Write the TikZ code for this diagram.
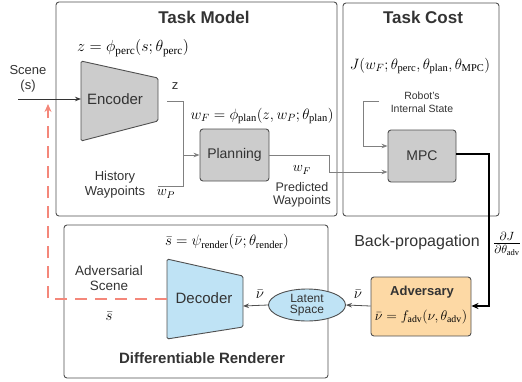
\RequirePackage{fix-cm}
\documentclass[tikz,border=0pt]{standalone}
\usepackage{fontspec}
\setmainfont{Liberation Sans}
\setmathrm{Liberation Serif}
\usetikzlibrary{arrows.meta,shapes.geometric}
\definecolor{boxedge}{HTML}{505050}
\definecolor{txt}{HTML}{333333}
\definecolor{grayfill}{HTML}{CCCCCC}
\definecolor{bluefill}{HTML}{BFE3F5}
\definecolor{orangefill}{HTML}{FDD9A5}
\definecolor{pinkline}{HTML}{F4877A}
\definecolor{wire}{HTML}{808080}
\newcommand{\fs}[1]{\fontsize{#1}{#1}\selectfont}
\begin{document}
\begin{tikzpicture}[x=1pt,y=-1pt,
  panel/.style={draw=boxedge,line width=0.9pt,rounded corners=3pt},
  block/.style={draw=boxedge,line width=0.9pt,rounded corners=3pt,fill=grayfill},
  lbl/.style={text=txt,inner sep=0pt,align=center},
  mth/.style={text=black,inner sep=0pt},
  ttl/.style={lbl,font=\fs{17}\bfseries},
  wireline/.style={draw=wire,line width=0.8pt},
  tip/.style={-{Stealth[length=6pt,width=4.5pt]}},
]
\useasboundingbox (0,0) rectangle (522,381);
% panels
\draw[panel] (56,2) rectangle (337,216);
\draw[panel] (343,3) rectangle (499,216);
\draw[panel] (64,225) rectangle (328,378);
\node[ttl] (tmtitle) at (204,17) {Task Model};
\node[ttl] (tctitle) at (423,17) {Task Cost};
\node[lbl,font=\fs{15}\bfseries] (drtitle) at (202,358) {Differentiable Renderer};

% encoder
\draw[block,rounded corners=1.5pt] (81,61) -- (158,78) -- (158,121) -- (81,141) -- cycle;
\node[lbl,font=\fs{15}] (enc) at (115,99) {Encoder};
\coordinate (encin) at (81,99);
\coordinate (encout) at (167,101);

% decoder
\draw[block,fill=bluefill,rounded corners=1.5pt] (167,259) -- (243,276) -- (243,327) -- (167,339) -- cycle;
\node[lbl,font=\fs{15}] (dec) at (204,298) {Decoder};
\coordinate (decin) at (243,306);
\coordinate (decout) at (167,299);

% planning, MPC
\node[block,minimum width=69pt,minimum height=52pt,font=\fs{14},text=txt] (plan) at (234.5,155) {Planning};
\node[block,minimum width=68pt,minimum height=52pt,font=\fs{14},text=txt] (mpc) at (422,156) {MPC};

% adversary
\node[block,fill=orangefill,minimum width=100pt,minimum height=59pt] (adv) at (421,306.5) {};
\node[lbl,font=\fs{13}\bfseries] (advt) at (422,292) {Adversary};
\node[mth,font=\fs{14}] (advf) at (421,317) {$\bar{\nu}=f_{\mathrm{adv}}(\nu,\theta_{\mathrm{adv}})$};

% latent space
\node[ellipse,draw=boxedge,line width=0.9pt,fill=bluefill,minimum width=77pt,minimum height=32pt,inner sep=0pt,
  font=\fs{12},text=txt,align=center] (lat) at (307,305) {Latent\\[-1pt]Space};

% texts
\node[lbl,font=\fs{13}] (scene) at (28,79) {Scene\\[2pt](s)};
\node[mth,font=\fs{16}] (fperc) at (133,48) {$z=\phi_{\mathrm{perc}}(s;\theta_{\mathrm{perc}})$};
\node[lbl,font=\fs{13}] (zl) at (175,86) {z};
\node[mth,font=\fs{15}] (fplan) at (262,116) {$w_F=\phi_{\mathrm{plan}}(z,w_P;\theta_{\mathrm{plan}})$};
\node[lbl,font=\fs{13}] (hist) at (115,185) {History\\[2pt]Waypoints};
\node[mth,font=\fs{14}] (wp) at (166,194) {$w_P$};
\node[mth,font=\fs{14}] (wf) at (302,170) {$w_F$};
\node[lbl,font=\fs{12.5}] (pred) at (302,195) {Predicted\\[1pt]Waypoints};
\node[mth,font=\fs{15}] (fj) at (420,66) {$J(w_F;\theta_{\mathrm{perc}},\theta_{\mathrm{plan}},\theta_{\mathrm{MPC}})$};
\node[lbl,font=\fs{10.5}] (robot) at (422,102) {Robot's\\[2pt]Internal State};
\node[lbl,font=\fs{16}] (bp) at (417,242) {Back-propagation};
\node[mth,font=\fs{17}] (grad) at (507,244) {$\frac{\partial J}{\partial\theta_{\mathrm{adv}}}$};
\node[mth,font=\fs{15}] (frend) at (227,242) {$\bar{s}=\psi_{\mathrm{render}}(\bar{\nu};\theta_{\mathrm{render}})$};
\node[lbl,font=\fs{13.5}] (advsc) at (109,278) {Adversarial\\[2pt]Scene};
\node[mth,font=\fs{15}] (sbar) at (109,316) {$\bar{s}$};
\node[mth,font=\fs{15}] (nu1) at (260,294) {$\bar{\nu}$};
\node[mth,font=\fs{15}] (nu2) at (358,294) {$\bar{\nu}$};

% coordinates for wires
\coordinate (scenein) at (18,99);
\coordinate (histout) at (158,186);
\coordinate (jn) at (183,155);
\coordinate (robotout) at (379,101);

% connectors
\draw[line width=1pt,draw=txt,tip] (scenein) -- (encin);
\draw[wireline] (encout) -| (jn);
\draw[wireline] (histout) -| (jn);
\draw[wireline,tip] (jn) -- (plan.west);
\draw[wireline,tip] (plan.east) -- (329,155) |- (mpc.west |- 0,172);
\draw[wireline,tip] (robotout) -- (363,101) |- (mpc.west |- 0,146);
\draw[line width=1.8pt,-{Stealth[length=7pt,width=6pt]}] (mpc.east |- 0,154) -| (489,306) -- (adv.east |- 0,306);
\draw[wireline,draw=boxedge,tip] (adv.west |- 0,306) -- (lat.east);
\draw[wireline,draw=boxedge,tip] (lat.west) -- (decin);
\draw[pinkline,line width=2pt,dash pattern=on 12pt off 8pt,-{Stealth[length=8pt,width=7pt]}] (decout) -- (48,299) -- (48,104);
\end{tikzpicture}
\end{document}
